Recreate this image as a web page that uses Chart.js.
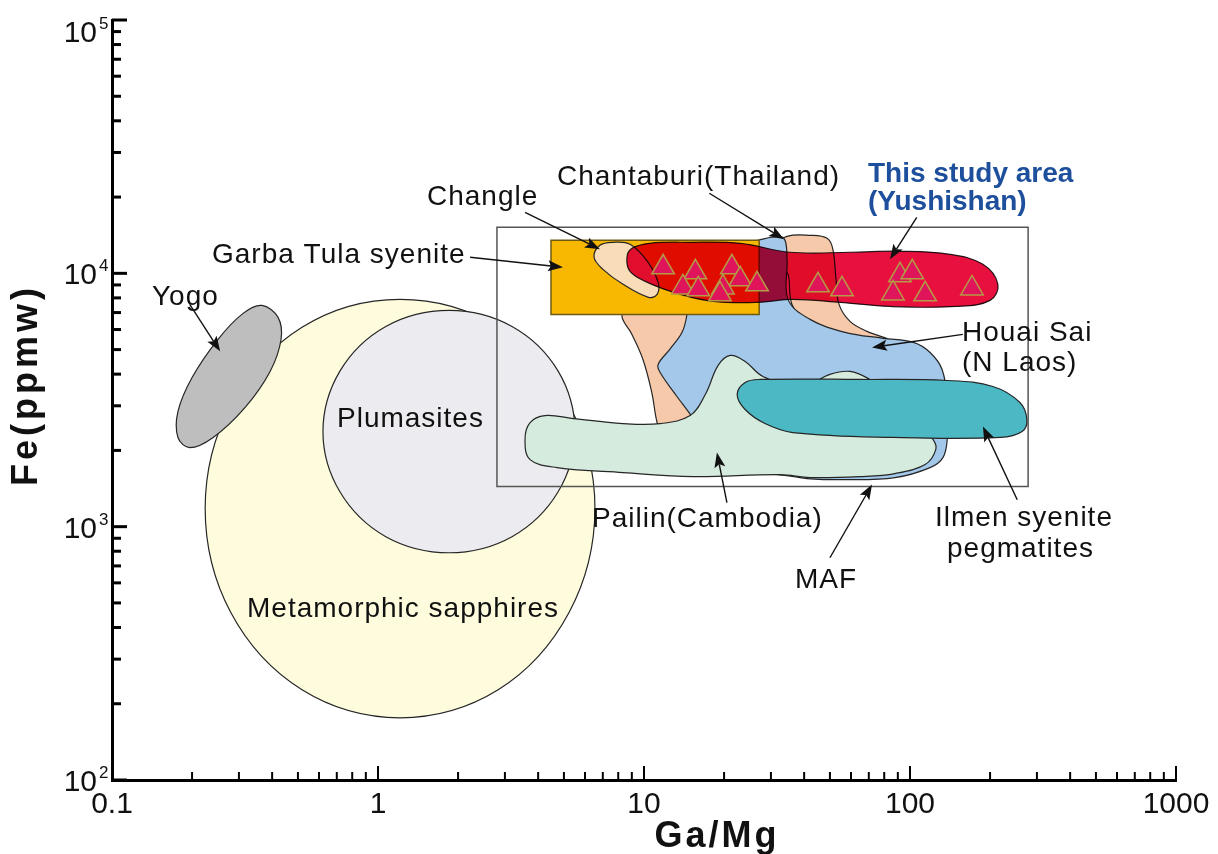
<!DOCTYPE html>
<html>
<head>
<meta charset="utf-8">
<title>Fe vs Ga/Mg</title>
<script src="https://cdn.jsdelivr.net/npm/chart.js@4.4.1/dist/chart.umd.min.js"></script>
<style>
  html, body { margin: 0; padding: 0; background: #fff; }
</style>
</head>
<body>
<canvas id="chart" width="1218" height="854"></canvas>
<script>
// axes
const xTickValues = [0.1, 1, 10, 100, 1000];
const xTickLabels = ['0.1', '1', '10', '100', '1000'];
const yTickValues = [100, 1000, 10000, 100000];
const yTickExponents = ['2', '3', '4', '5'];   // printed as 10^n

// field outlines, Ga/Mg (x) and Fe ppmw (y)
const sapphireX = [6.54, 5.22, 2.83, 1.21, 0.518, 0.280, 0.224, 0.280, 0.518, 1.21, 2.83, 5.22];
const sapphireY = [1180, 3030, 6120, 7890, 6120, 3030, 1180, 457, 227, 176, 227, 457];

const plumasiteX = [5.50, 4.75, 3.19, 1.85, 1.07, 0.720, 0.621, 0.720, 1.07, 1.85, 3.19, 4.75];
const plumasiteY = [2370, 4120, 6170, 7140, 6170, 4120, 2370, 1370, 913, 789, 913, 1370];

const yogoX = [0.366, 0.421, 0.432, 0.393, 0.316, 0.240, 0.196, 0.177, 0.177, 0.200, 0.250, 0.311];
const yogoY = [7470, 6700, 5480, 4100, 2950, 2250, 2050, 2250, 2850, 3880, 5480, 6950];

const mafX = [2.8, 278, 278, 2.8];
const mafY = [15200, 15200, 1440, 1440];

const chantaburiX = [8.27, 9.01, 9.91, 10.7, 11.2, 12.0, 16.2, 17.0, 20.2, 29.8, 34.5, 42.1, 48.8,
                     51.3, 52.7, 54.1, 59.5, 68.9, 82.7, 64.9, 50.0, 40.3, 36.0, 33.6, 23.0, 9.66];
const chantaburiY = [6880, 5740, 4570, 3385, 2577, 2110, 2210, 6010, 9050, 12670, 14000, 14130, 13750,
                     12440, 9470, 7540, 6460, 5900, 5480, 5540, 5900, 6520, 7540, 10370, 9910, 7890];

const houaiX = [17.0, 26.8, 30.3, 33.6, 34.5, 34.8, 42.1, 57.0, 79.2, 103, 119, 132, 138, 138,
                133, 119, 87.8, 57.0, 38.6, 19.3, 15.2, 13.3, 11.5, 11.3, 12.5, 13.9, 14.5, 14.9];
const houaiY = [12440, 13500, 13880, 13750, 11360, 7890, 6580, 5850, 5540, 5340, 4870, 4175, 3180, 2210,
                1874, 1711, 1562, 1534, 1562, 1840, 2700, 3265, 4060, 4370, 5010, 5850, 6880, 9470];

const pailinX = [3.57, 3.73, 4.24, 5.41, 8.34, 11.5, 14.9, 17.0, 19.0, 21.1, 24.0, 28.0, 38.6, 50.0,
                 59.5, 70.7, 91.7, 122, 125, 114, 87.8, 64.9, 42.1, 32.5, 15.3, 8.34, 4.71, 3.73];
const pailinY = [2210, 2577, 2746, 2672, 2553, 2553, 2746, 3324, 4330, 4742, 4490, 3916, 3543, 3990,
                 4100, 3811, 3180, 2210, 2015, 1759, 1620, 1576, 1562, 1605, 1576, 1635, 1711, 1840];

const ilmenX = [22.4, 24.0, 27.3, 64.9, 138, 205, 259, 275, 264, 218, 86.3, 36.3, 28.5, 24.0];
const ilmenY = [3324, 3708, 3811, 3811, 3776, 3576, 3091, 2648, 2374, 2250, 2250, 2352, 2553, 2900];

const garbaX = [4.47, 27.1, 27.1, 4.47];
const garbaY = [13500, 13500, 6880, 6880];

const changleX = [6.49, 6.83, 7.65, 8.86, 10.3, 11.3, 11.2, 10.4, 8.34, 7.01];
const changleY = [11570, 12900, 13260, 13020, 11150, 9210, 8260, 8040, 9050, 10370];

const studyX = [8.63, 9.01, 10.5, 14.9, 23.0, 35.4, 59.5, 91.7, 141, 188, 214,
                200, 150, 84.1, 54.6, 36.3, 26.6, 18.2, 13.7, 10.3, 8.86];
const studyY = [11570, 12550, 13140, 13260, 13140, 12110, 12110, 12220, 11890, 10850, 9050,
                7820, 7400, 7400, 7680, 7890, 7680, 7750, 8260, 9210, 10180];

// Yushishan samples
const sampleX = [11.8, 15.6, 14.0, 16.0, 21.4, 23.0, 19.8, 19.3, 26.6, 45.1, 55.5, 91.7, 102, 86.3, 114, 171];
const sampleY = [10560, 10090, 8800, 8650, 10560, 9470, 8800, 8260, 9050, 8970, 8650, 9820, 10090, 8330, 8260, 8720];

// labels (canvas px) and arrows (data units)
const notes = [
  {text: 'Yogo', x: 152, y: 305},
  {text: 'Plumasites', x: 337, y: 427},
  {text: 'Metamorphic sapphires', x: 247, y: 617},
  {text: 'Garba Tula syenite', x: 212, y: 263},
  {text: 'Changle', x: 427, y: 205},
  {text: 'Chantaburi(Thailand)', x: 557, y: 185},
  {text: 'This study area', x: 868, y: 182, bold: true},
  {text: '(Yushishan)', x: 868, y: 210, bold: true},
  {text: 'Houai Sai', x: 962, y: 341},
  {text: '(N Laos)', x: 962, y: 371},
  {text: 'Pailin(Cambodia)', x: 592, y: 527},
  {text: 'MAF', x: 795, y: 588},
  {text: 'Ilmen syenite', x: 935, y: 526},
  {text: 'pegmatites', x: 947, y: 557}
];
const arrows = [
  {from: [0.196, 7540], to: [0.255, 4920]},
  {from: [2.22, 11570], to: [4.96, 10560]},
  {from: [3.57, 17420], to: [6.83, 12440]},
  {from: [17.6, 20710], to: [33.6, 13630]},
  {from: [106, 16640], to: [84.1, 11360]},
  {from: [158, 5740], to: [72.0, 5100]},
  {from: [20.5, 1244], to: [18.8, 1961]},
  {from: [50.0, 754], to: [72.0, 1466]},
  {from: [253, 1278], to: [188, 2485]}
];

const FONT = "'Liberation Sans', Arial, sans-serif";
Chart.defaults.font.family = FONT;
Chart.defaults.color = '#111';

const pts = (xs, ys) => xs.map((x, i) => ({x: x, y: ys[i]}));

function field(label, xs, ys, color, more) {
  return Object.assign({
    label: label,
    data: pts(xs, ys),
    closed: true,
    fill: 'shape',
    backgroundColor: color,
    borderColor: '#262626',
    borderWidth: 1.2,
    tension: 0.38,
    pointRadius: 0,
    pointHoverRadius: 0
  }, more || {});
}

// close the outlines like a radar line, and let a field multiply over what is under it
const shapeLoops = {
  id: 'shapeLoops',
  afterDatasetsUpdate(chart) {
    chart.data.datasets.forEach((ds, i) => {
      const line = chart.getDatasetMeta(i).dataset;
      if (ds.closed && line) {
        line._loop = true;
        line._fullLoop = true;
      }
    });
  },
  afterDatasetDraw(chart, args) {
    const ctx = chart.ctx;
    ctx.globalCompositeOperation = 'source-over';
    const next = chart.data.datasets[args.index - 1];
    if (next && next.blend) ctx.globalCompositeOperation = next.blend;
  }
};

function drawArrow(ctx, x0, y0, x1, y1) {
  const a = Math.atan2(y1 - y0, x1 - x0);
  const c = Math.cos(a), s = Math.sin(a);
  const hl = 15, hw = 5.5;
  const bx = x1 - hl * c, by = y1 - hl * s;
  ctx.beginPath();
  ctx.moveTo(x0, y0);
  ctx.lineTo(bx + 3 * c, by + 3 * s);
  ctx.stroke();
  ctx.beginPath();
  ctx.moveTo(x1, y1);
  ctx.lineTo(bx + hw * s, by - hw * c);
  ctx.lineTo(bx + 3 * c, by + 3 * s);
  ctx.lineTo(bx - hw * s, by + hw * c);
  ctx.closePath();
  ctx.fill();
}

const decorations = {
  id: 'decorations',
  afterDatasetsDraw(chart) {
    const {ctx, chartArea: a} = chart;
    const sx = chart.scales.x, sy = chart.scales.y;
    ctx.save();
    ctx.strokeStyle = '#000';
    // inward tick marks
    ctx.lineWidth = 2;
    [0.1, 1, 10, 100].forEach(d => {
      for (let m = 1; m < 10; m++) {
        const px = sx.getPixelForValue(d * m);
        ctx.beginPath();
        ctx.moveTo(px, a.bottom);
        ctx.lineTo(px, a.bottom - (m === 1 ? 14 : 8));
        ctx.stroke();
      }
    });
    let px = sx.getPixelForValue(1000);
    ctx.beginPath(); ctx.moveTo(px, a.bottom); ctx.lineTo(px, a.bottom - 14); ctx.stroke();

    ctx.lineWidth = 3;
    [100, 1000, 10000].forEach(d => {
      for (let m = 1; m < 10; m++) {
        const py = sy.getPixelForValue(d * m);
        ctx.beginPath();
        ctx.moveTo(a.left, py);
        ctx.lineTo(a.left + (m === 1 ? 15 : 9), py);
        ctx.stroke();
      }
    });
    const py = sy.getPixelForValue(100000);
    ctx.beginPath(); ctx.moveTo(a.left, py); ctx.lineTo(a.left + 15, py); ctx.stroke();

    // y tick labels as 10 with a raised exponent
    ctx.fillStyle = '#111';
    yTickValues.forEach((v, i) => {
      const cy = Math.max(sy.getPixelForValue(v), 31);
      ctx.textAlign = 'right';
      ctx.textBaseline = 'alphabetic';
      ctx.font = '30px ' + FONT;
      ctx.fillText('10', 97, cy + 11);
      ctx.textAlign = 'left';
      ctx.font = '17px ' + FONT;
      ctx.fillText(yTickExponents[i], 99, cy - 2);
    });
    ctx.restore();
  },
  afterDraw(chart) {
    const ctx = chart.ctx;
    const sx = chart.scales.x, sy = chart.scales.y;
    ctx.save();
    ctx.strokeStyle = '#111';
    ctx.fillStyle = '#111';
    ctx.lineWidth = 1.4;
    arrows.forEach(ar => {
      drawArrow(ctx,
        sx.getPixelForValue(ar.from[0]), sy.getPixelForValue(ar.from[1]),
        sx.getPixelForValue(ar.to[0]), sy.getPixelForValue(ar.to[1]));
    });

    ctx.textBaseline = 'alphabetic';
    ctx.textAlign = 'left';
    notes.forEach(n => {
      if (n.bold) {
        ctx.font = 'bold 28px ' + FONT;
        ctx.fillStyle = '#1d4f9c';
        ctx.letterSpacing = '0px';
      } else {
        ctx.font = '28px ' + FONT;
        ctx.fillStyle = '#111';
        ctx.letterSpacing = '1px';
      }
      ctx.fillText(n.text, n.x, n.y);
    });

    // axis titles
    ctx.fillStyle = '#111';
    ctx.font = 'bold 36px ' + FONT;
    ctx.letterSpacing = '3px';
    ctx.textAlign = 'center';
    ctx.fillText('Ga/Mg', 717, 847);
    ctx.translate(27, 385);
    ctx.rotate(-Math.PI / 2);
    ctx.textBaseline = 'middle';
    ctx.letterSpacing = '4px';
    ctx.fillText('Fe(ppmw)', 0, 0);
    ctx.restore();
  }
};

new Chart(document.getElementById('chart'), {
  type: 'line',
  data: {
    datasets: [
      {
        label: 'This study',
        data: pts(sampleX, sampleY),
        showLine: false,
        pointStyle: 'triangle',
        pointRadius: 13,
        pointHoverRadius: 13,
        pointBackgroundColor: '#e0145a',
        pointBorderColor: '#b49b46',
        pointBorderWidth: 1.5
      },
      field('This study area (Yushishan)', studyX, studyY, '#e8103e', {blend: 'multiply'}),
      field('Changle', changleX, changleY, '#f9dcb8'),
      field('Garba Tula syenite', garbaX, garbaY, '#f8b700', {tension: 0, borderColor: '#6e5a14', borderWidth: 1.5}),
      field('Ilmen syenite pegmatites', ilmenX, ilmenY, '#4cb8c4'),
      field('Pailin (Cambodia)', pailinX, pailinY, '#d4ebde'),
      field('Houai Sai (N Laos)', houaiX, houaiY, '#a3c8ea'),
      field('Chantaburi (Thailand)', chantaburiX, chantaburiY, '#f5c9a9'),
      field('MAF', mafX, mafY, 'rgba(0,0,0,0)', {fill: false, tension: 0, borderColor: '#555', borderWidth: 1.5}),
      field('Yogo', yogoX, yogoY, '#bebebf', {tension: 0.35}),
      field('Plumasites', plumasiteX, plumasiteY, '#ececf0', {tension: 0.35}),
      field('Metamorphic sapphires', sapphireX, sapphireY, '#fefcdc', {tension: 0.35})
    ]
  },
  options: {
    responsive: false,
    animation: false,
    events: [],
    layout: {padding: {top: 20, right: 42, left: 0, bottom: 0}},
    plugins: {legend: {display: false}, tooltip: {enabled: false}},
    scales: {
      x: {
        type: 'logarithmic',
        min: 0.1,
        max: 1000,
        afterFit: s => { s.height = 74; },
        afterBuildTicks: s => { s.ticks = xTickValues.map(v => ({value: v})); },
        grid: {display: false, drawTicks: false},
        border: {display: true, color: '#000', width: 3},
        ticks: {
          autoSkip: false, maxRotation: 0, padding: 7,
          font: {size: 30}, color: '#111',
          callback: (v, i) => xTickLabels[i]
        }
      },
      y: {
        type: 'logarithmic',
        min: 100,
        max: 100000,
        afterFit: s => { s.width = 112; },
        afterBuildTicks: s => { s.ticks = yTickValues.map(v => ({value: v})); },
        grid: {display: false, drawTicks: false},
        border: {display: true, color: '#000', width: 3},
        ticks: {display: false}
      }
    }
  },
  plugins: [shapeLoops, decorations]
});
</script>
</body>
</html>
